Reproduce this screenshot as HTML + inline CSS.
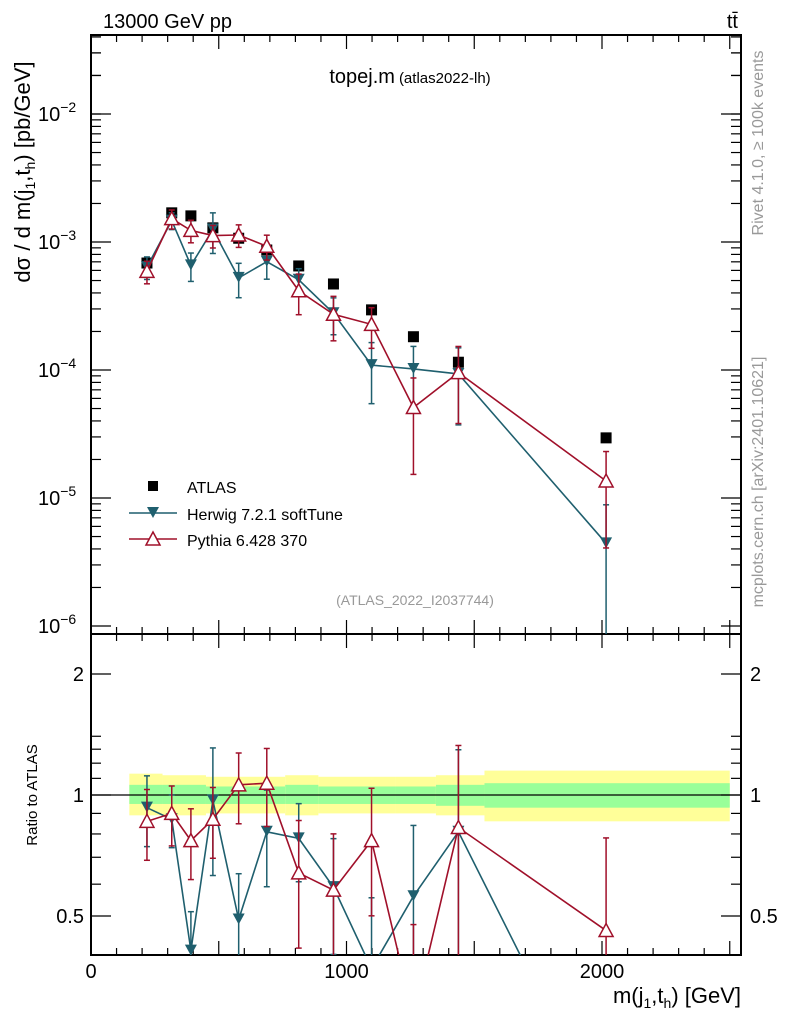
<!DOCTYPE html>
<html><head><meta charset="utf-8"><style>
html,body{margin:0;background:#fff;overflow:hidden;width:786px;height:1024px}
svg{display:block;font-family:"Liberation Sans",sans-serif}
</style></head><body>
<svg id="c" width="786" height="1024" xmlns="http://www.w3.org/2000/svg"></svg>
<script>
const xs = [219, 316, 391, 477, 578, 688, 813, 949, 1098, 1262, 1438, 2016];
const atlasVals = [6.85e-4, 1.69e-3, 1.6e-3, 1.29e-3, 1.07e-3, 8.66e-4, 6.5e-4, 4.7e-4, 2.95e-4, 1.82e-4, 1.15e-4, 2.95e-5];
const herwigRatio = [0.93, 0.87, 0.41, 0.97, 0.49, 0.81, 0.78, 0.59, 0.37, 0.56, 0.81, 0.15];
const herwigErr = [0.2, 0.15, 0.25, 0.35, 0.3, 0.27, 0.22, 0.32, 0.5, 0.5, 0.6, 1.0];
const pythiaRatio = [0.86, 0.9, 0.77, 0.87, 1.06, 1.07, 0.64, 0.58, 0.77, 0.28, 0.83, 0.46];
const pythiaErr = [0.2, 0.17, 0.2, 0.2, 0.2, 0.22, 0.35, 0.38, 0.35, 0.7, 0.6, 0.7];
const bandEdges = [150, 280, 450, 760, 890, 1190, 1350, 1540, 2500];
const yellowUp = [1.13, 1.12, 1.11, 1.12, 1.11, 1.11, 1.12, 1.15];
const yellowDn = [0.89, 0.89, 0.9, 0.89, 0.9, 0.9, 0.89, 0.86];
const greenUp = [1.06, 1.06, 1.05, 1.06, 1.05, 1.05, 1.06, 1.07];
const greenDn = [0.95, 0.95, 0.95, 0.95, 0.95, 0.95, 0.94, 0.93];
const xTicks = [0, 1000, 2000];

const svg = document.getElementById('c');
const NS = 'http://www.w3.org/2000/svg';
function mk(t, a, p) { const e = document.createElementNS(NS, t); for (const k in a) e.setAttribute(k, a[k]); (p || svg).appendChild(e); return e; }
const L = 91, R = 741, T = 35, MB = 634, RB = 955;
const X = v => L + v * 0.2555;
const Y = v => 242 - (Math.log10(v) + 3) * 128;
const YR = r => 795 - Math.log2(r) * 121;
const HC = '#1f5f6e', PC = '#a0102a';

const defs = mk('defs', {});
const c1 = mk('clipPath', { id: 'cm' }, defs); mk('rect', { x: L, y: T, width: R - L, height: MB - T }, c1);
const c2 = mk('clipPath', { id: 'cr' }, defs); mk('rect', { x: L, y: MB, width: R - L, height: RB - MB }, c2);

const band = mk('g', { 'clip-path': 'url(#cr)' });


for (let i = 0; i < bandEdges.length - 1; i++) {
  const x0 = X(bandEdges[i]), x1 = X(bandEdges[i + 1]);
  mk('rect', { x: x0, y: YR(yellowUp[i]), width: x1 - x0, height: YR(yellowDn[i]) - YR(yellowUp[i]), fill: '#ffff99' }, band);
  mk('rect', { x: x0, y: YR(greenUp[i]), width: x1 - x0, height: YR(greenDn[i]) - YR(greenUp[i]), fill: '#99ff99' }, band);
}
const ul = mk('line', { x1: L, x2: R, y1: YR(1), y2: YR(1), stroke: '#000', 'stroke-width': 1.2 });



for (const [y0, y1, nm] of [[T, MB, 'main-plot-frame'], [MB, RB, 'ratio-plot-frame']]) {
  const f = mk('rect', { x: L, y: y0, width: R - L, height: y1 - y0, fill: 'none', stroke: '#000', 'stroke-width': 2 });
  
  
}
for (let v = 0; v <= 2500; v += 100) {
  const major = v % 500 === 0, len = major ? 14 : 7;
  for (const [yb, yt] of [[MB, T], [RB, MB]]) {
    mk('line', { x1: X(v), x2: X(v), y1: yb, y2: yb - len, stroke: '#000', 'stroke-width': 1.2 });
    mk('line', { x1: X(v), x2: X(v), y1: yt, y2: yt + len, stroke: '#000', 'stroke-width': 1.2 });
  }
}
xTicks.forEach(v => {
  const t = mk('text', { x: X(v), y: 978, 'font-size': 20, 'text-anchor': 'middle' }); t.textContent = v;
  
  
});
for (let d = -6; d <= -2; d++) {
  for (let m = 1; m <= 9; m++) {
    const v = m * Math.pow(10, d), y = Y(v);
    if (y < T || y > MB) continue;
    const len = m === 1 ? 20 : 10;
    mk('line', { x1: L, x2: L + len, y1: y, y2: y, stroke: '#000', 'stroke-width': 1.2 });
    mk('line', { x1: R, x2: R - len, y1: y, y2: y, stroke: '#000', 'stroke-width': 1.2 });
  }
  const t = mk('text', { x: 38, y: Y(Math.pow(10, d)) + 7, 'font-size': 20 });
  
  
  t.innerHTML = '10<tspan dy="-9" font-size="14">−' + (-d) + '</tspan>';
}
for (let m = 1; m <= 9; m++) { const y = Y(m * 1e-2); if (y >= T) { mk('line', { x1: L, x2: L + 10, y1: y, y2: y, stroke: '#000', 'stroke-width': 1.2 }); mk('line', { x1: R, x2: R - 10, y1: y, y2: y, stroke: '#000', 'stroke-width': 1.2 }); } }
[0.5, 0.6, 0.7, 0.8, 0.9, 1, 1.1, 1.2, 1.3, 1.4, 2].forEach(r => {
  const len = (r === 0.5 || r === 1 || r === 2) ? 20 : 10;
  mk('line', { x1: L, x2: L + len, y1: YR(r), y2: YR(r), stroke: '#000', 'stroke-width': 1.2 });
  mk('line', { x1: R, x2: R - len, y1: YR(r), y2: YR(r), stroke: '#000', 'stroke-width': 1.2 });
});
[[2, '2'], [1, '1'], [0.5, '0.5']].forEach(([r, s]) => {
  const a = mk('text', { x: 84, y: YR(r) + 7, 'font-size': 20, 'text-anchor': 'end' }); a.textContent = s;
  
  
  const b = mk('text', { x: 750, y: YR(r) + 7, 'font-size': 20 }); b.textContent = s;
  
  
});

function errbar(g, x, y0, y1, col) {
  mk('line', { x1: x, x2: x, y1: y0, y2: y1, stroke: col, 'stroke-width': 1.5 }, g);
  mk('line', { x1: x - 3, x2: x + 3, y1: y0, y2: y0, stroke: col, 'stroke-width': 1.5 }, g);
  mk('line', { x1: x - 3, x2: x + 3, y1: y1, y2: y1, stroke: col, 'stroke-width': 1.5 }, g);
}
function downTri(g, x, y, col) { mk('path', { d: `M${x - 6},${y - 6}L${x + 6},${y - 6}L${x},${y + 5}Z`, fill: col }, g); }
function upTri(g, x, y, col) { mk('path', { d: `M${x - 7},${y + 6}L${x + 7},${y + 6}L${x},${y - 7}Z`, fill: '#fff', stroke: col, 'stroke-width': 1.5 }, g); }

const ga = mk('g', { 'clip-path': 'url(#cm)' });


function drawModel(ratio, err, col, marker, name, yfn, vfn, clip) {
  const g = mk('g', { 'clip-path': clip });
  
  
  const pts = xs.map((x, i) => [X(x), yfn(vfn(i))]);
  mk('polyline', { points: pts.map(p => p.join(',')).join(' '), fill: 'none', stroke: col, 'stroke-width': 1.6 }, g);
  xs.forEach((x, i) => {
    const v = vfn(i), lo = Math.max(v * (1 - err[i]), 1e-9), hi = v * (1 + err[i]);
    errbar(g, X(x), yfn(lo), yfn(hi), col);
  });
  pts.forEach(p => marker(g, p[0], p[1], col));
}
drawModel(herwigRatio, herwigErr, HC, downTri, 'herwig-series-main', Y, i => herwigRatio[i] * atlasVals[i], 'url(#cm)');
drawModel(pythiaRatio, pythiaErr, PC, upTri, 'pythia-series-main', Y, i => pythiaRatio[i] * atlasVals[i], 'url(#cm)');
xs.forEach((x, i) => {
  const r = mk('rect', { x: X(x) - 5.5, y: Y(atlasVals[i]) - 5.5, width: 11, height: 11, fill: '#000' }, ga);
  
  
});
drawModel(herwigRatio, herwigErr, HC, downTri, 'herwig-series-ratio', YR, i => herwigRatio[i], 'url(#cr)');
drawModel(pythiaRatio, pythiaErr, PC, upTri, 'pythia-series-ratio', YR, i => pythiaRatio[i], 'url(#cr)');

const lg = mk('g', {});


mk('rect', { x: 148, y: 481, width: 10, height: 10, fill: '#000' }, lg);
mk('line', { x1: 129, x2: 177, y1: 513, y2: 513, stroke: HC, 'stroke-width': 1.5 }, lg);
downTri(lg, 153, 513, HC);
mk('line', { x1: 129, x2: 177, y1: 539, y2: 539, stroke: PC, 'stroke-width': 1.5 }, lg);
upTri(lg, 153, 539, PC);
[['ATLAS', 493, 'legend-entry-atlas'], ['Herwig 7.2.1 softTune', 520, 'legend-entry-herwig'], ['Pythia 6.428 370', 546, 'legend-entry-pythia']].forEach(([s, y, n]) => {
  const t = mk('text', { x: 187, y: y, 'font-size': 16 }, lg); t.textContent = s;
  
  
});

function txt(s, a, n) { const t = mk('text', a); t.innerHTML = s;   return t; }
txt('13000 GeV pp', { x: 103, y: 28, 'font-size': 20 }, 'energy-label');
txt('tt̄', { x: 738, y: 28, 'font-size': 20, 'text-anchor': 'end' }, 'process-label');
txt('topej.m<tspan font-size="15" dx="4">(atlas2022-lh)</tspan>', { x: 410, y: 83, 'font-size': 20, 'text-anchor': 'middle' }, 'plot-title');
txt('(ATLAS_2022_I2037744)', { x: 415, y: 605, 'font-size': 14, fill: '#999', 'text-anchor': 'middle' }, 'analysis-id');
txt('Rivet 4.1.0, ≥ 100k events', { x: 0, y: 0, 'font-size': 16, fill: '#999', transform: 'translate(763,143) rotate(-90)', 'text-anchor': 'middle' }, 'rivet-version-label');
txt('mcplots.cern.ch [arXiv:2401.10621]', { x: 0, y: 0, 'font-size': 16, fill: '#999', transform: 'translate(763,482) rotate(-90)', 'text-anchor': 'middle' }, 'mcplots-label');
txt('dσ / d m(j<tspan dy="5" font-size="14">1</tspan><tspan dy="-5">,t</tspan><tspan dy="5" font-size="14">h</tspan><tspan dy="-5">) [pb/GeV]</tspan>', { x: 0, y: 0, 'font-size': 22, transform: 'translate(30,172) rotate(-90)', 'text-anchor': 'middle' }, 'y-axis-title');
txt('Ratio to ATLAS', { x: 0, y: 0, 'font-size': 15, transform: 'translate(37,795) rotate(-90)', 'text-anchor': 'middle' }, 'ratio-axis-title');
txt('m(j<tspan dy="5" font-size="14">1</tspan><tspan dy="-5">,t</tspan><tspan dy="5" font-size="14">h</tspan><tspan dy="-5">) [GeV]</tspan>', { x: 741, y: 1003, 'font-size': 22, 'text-anchor': 'end' }, 'x-axis-title');
</script>
</body></html>
